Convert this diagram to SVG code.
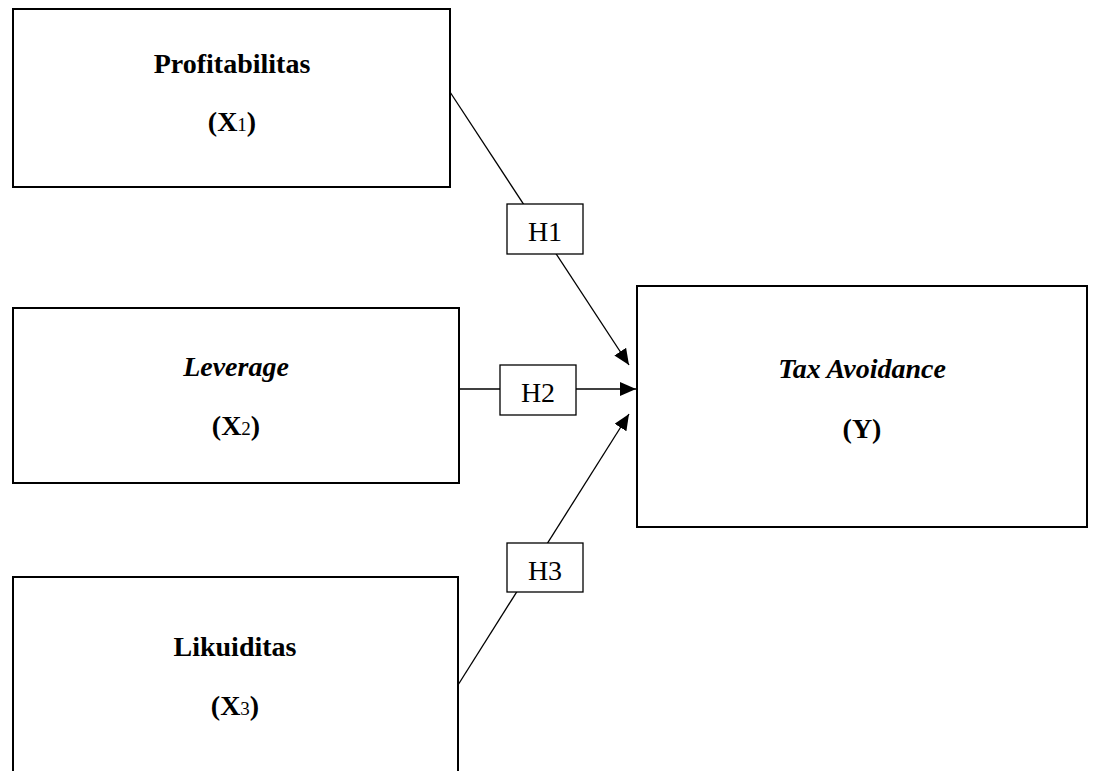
<svg xmlns="http://www.w3.org/2000/svg" width="1093" height="771" viewBox="0 0 1093 771">
<defs>
<style>
.box{fill:#fff;stroke:#000;stroke-width:2}
.hbox{fill:#fff;stroke:#000;stroke-width:1.3}
.t{font-family:"Liberation Serif","Times New Roman",serif;font-size:28px;text-anchor:middle;fill:#000}
.b{font-weight:bold}
.i{font-style:italic}
.sub{font-weight:normal;font-size:19px}
.h{font-family:"Liberation Serif","Times New Roman",serif;font-size:28px;text-anchor:middle;fill:#000}
.conn{stroke:#000;stroke-width:1.3;fill:none;marker-end:url(#arr)}
</style>
<marker id="arr" markerUnits="userSpaceOnUse" markerWidth="17" markerHeight="15" refX="16" refY="7" orient="auto">
<path d="M0,0 L16,7 L0,14 Z" fill="#000"/>
</marker>
</defs>
<g id="connectors">
<line class="conn" x1="450" y1="92" x2="629" y2="365"/>
<line class="conn" x1="459" y1="389" x2="636" y2="389"/>
<line class="conn" x1="458" y1="685" x2="629" y2="414"/>
</g>
<g id="x1">
<rect class="box" x="13" y="9" width="437" height="178"/>
<text class="t b" x="232" y="73">Profitabilitas</text>
<text class="t b" x="232" y="131">(X<tspan class="sub">1</tspan>)</text>
</g>
<g id="x2">
<rect class="box" x="13" y="308" width="446" height="175"/>
<text class="t b i" x="236" y="376">Leverage</text>
<text class="t b" x="236" y="435">(X<tspan class="sub">2</tspan>)</text>
</g>
<g id="x3">
<rect class="box" x="13" y="577" width="445" height="220"/>
<text class="t b" x="235" y="656">Likuiditas</text>
<text class="t b" x="235" y="715">(X<tspan class="sub">3</tspan>)</text>
</g>
<g id="y">
<rect class="box" x="637" y="286" width="450" height="241"/>
<text class="t b i" x="862" y="378">Tax Avoidance</text>
<text class="t b" x="862" y="438">(Y)</text>
</g>
<g id="h1">
<rect class="hbox" x="507" y="204" width="76" height="50"/>
<text class="h" x="545" y="241">H1</text>
</g>
<g id="h2">
<rect class="hbox" x="500" y="365" width="76" height="50"/>
<text class="h" x="538" y="402">H2</text>
</g>
<g id="h3">
<rect class="hbox" x="507" y="543" width="76" height="49"/>
<text class="h" x="545" y="580">H3</text>
</g>
</svg>
